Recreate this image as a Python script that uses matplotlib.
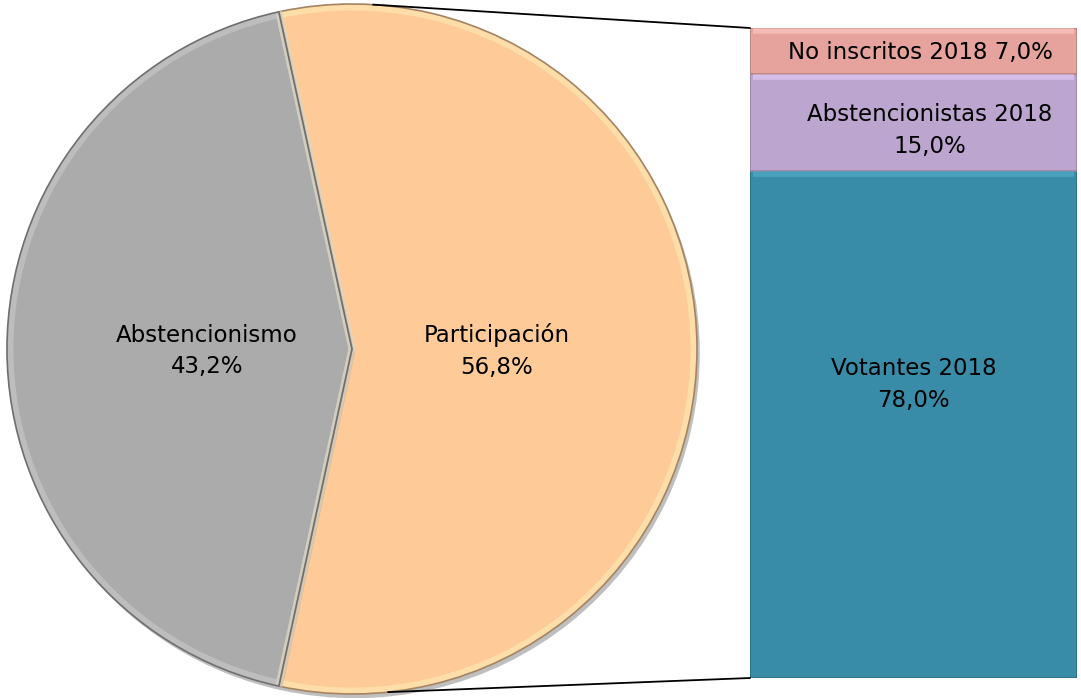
import numpy as np
import matplotlib
matplotlib.use("Agg")
import matplotlib.pyplot as plt
from matplotlib.patches import ConnectionPatch, Wedge, Rectangle
import matplotlib.patheffects as pe
from matplotlib.colors import to_rgb

# pie: overall turnout
pie_labels = ["Participación", "Abstencionismo"]
pie_values = [56.8, 43.2]
pie_colors = ["#FDCA98", "#ABABAB"]

# bar: breakdown, stacked from the bottom
bar_labels = ["Votantes 2018", "Abstencionistas 2018", "No inscritos 2018"]
bar_values = [78.0, 15.0, 7.0]
bar_colors = ["#388CA7", "#BCA6D0", "#E6A39D"]


def pct(v):
    return f"{v:.1f}%".replace(".", ",")


FS = 16.5
LS = 1.5
W, H = 1081, 698
fig = plt.figure(figsize=(W / 100, H / 100), dpi=100)
fig.patch.set_facecolor("white")

# pie axes in pixel units
ax = fig.add_axes([0, 0, 1, 1])
cx, cy, R = 352, 349, 345
start = -pie_values[0] * 3.6 / 2
wedges, texts = ax.pie(pie_values, colors=pie_colors, startangle=start,
                       center=(cx, cy), radius=R, counterclock=True,
                       wedgeprops=dict(edgecolor="none", linewidth=0))
ax.set_xlim(0, W)
ax.set_ylim(0, H)
ax.set_aspect("equal")
ax.axis("off")

shadow = [pe.SimplePatchShadow(offset=(2, -3), shadow_rgbFace="black", alpha=0.25),
          pe.Normal()]
for w, c in zip(wedges, pie_colors):
    w.set_path_effects(shadow)
    # bevel: darker rim plus a light inner ring
    rgb = np.array(to_rgb(c))
    ax.add_patch(Wedge((cx, cy), R - 3, w.theta1, w.theta2, facecolor="none",
                       edgecolor=np.clip(rgb * 1.12 + 0.05, 0, 1),
                       linewidth=5, alpha=0.55))
    ax.add_patch(Wedge((cx, cy), R, w.theta1, w.theta2, facecolor="none",
                       edgecolor=rgb * 0.65, linewidth=1.2))

for lab, v, w in zip(pie_labels, pie_values, wedges):
    mid = np.deg2rad((w.theta1 + w.theta2) / 2)
    ax.text(cx + 0.42 * R * np.cos(mid), cy - 2 + 0.42 * R * np.sin(mid),
            f"{lab}\n{pct(v)}", ha="center", va="center", fontsize=FS,
            linespacing=LS, color="black")

# stacked bar axes
bx0, bx1, by0, by1 = 750, 1077, 20, 670
bax = fig.add_axes([bx0 / W, by0 / H, (bx1 - bx0) / W, (by1 - by0) / H])
bax.set_xlim(-0.5, 0.5)
bax.set_ylim(0, sum(bar_values))
bax.axis("off")

# soft drop shadow under the whole bar
back = Rectangle((-0.5, 0), 1, sum(bar_values), facecolor="white",
                 edgecolor="none")
back.set_path_effects([pe.SimplePatchShadow(offset=(3, -4), shadow_rgbFace="black",
                                            alpha=0.3), pe.Normal()])
bax.add_patch(back)

bottom = 0
label_dx = [0.0, 0.05, 0.02]
label_dy = [6.2, -1.3, -0.3]
for lab, v, c, dx, dy in zip(bar_labels, bar_values, bar_colors, label_dx, label_dy):
    rgb = np.array(to_rgb(c))
    bax.bar(0, v, width=1.0, bottom=bottom, color=c,
            edgecolor=rgb * 0.8, linewidth=1.2)
    # light bevel on the top edge of each segment
    bax.plot([-0.49, 0.49], [bottom + v - 0.5, bottom + v - 0.5],
             color=np.clip(rgb * 1.12 + 0.08, 0, 1), lw=4, alpha=0.6,
             solid_capstyle="butt")
    if v < 10:
        txt = f"{lab} {pct(v)}"
    else:
        txt = f"{lab}\n{pct(v)}"
    bax.text(dx, bottom + v / 2 + dy, txt, ha="center", va="center",
             fontsize=FS, linespacing=LS, color="black")
    bottom += v

# connector lines from the pie to the bar corners
for ang, yb in [(np.deg2rad(86.5), sum(bar_values)), (np.deg2rad(-84.0), 0)]:
    con = ConnectionPatch(xyA=(cx + R * np.cos(ang), cy + R * np.sin(ang)),
                          coordsA=ax.transData,
                          xyB=(-0.5, yb), coordsB=bax.transData,
                          color="black", lw=1.3)
    fig.add_artist(con)

fig.savefig("out.png", dpi=100, facecolor="white")
